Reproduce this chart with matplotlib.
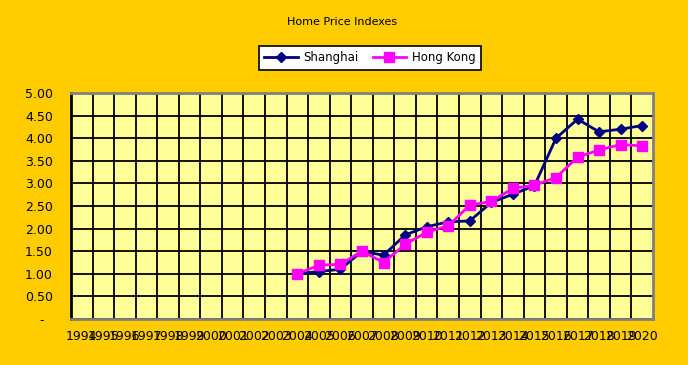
import numpy as np
import matplotlib
matplotlib.use("Agg")
import matplotlib.pyplot as plt

years = [str(y) for y in range(1994, 2021)]
shanghai = [np.nan]*10 + [1.00, 1.05, 1.10, 1.50, 1.41, 1.86, 2.04, 2.15, 2.17, 2.58, 2.76, 2.95, 4.00, 4.42, 4.14, 4.20, 4.28]
hongkong = [np.nan]*10 + [1.00, 1.19, 1.21, 1.50, 1.25, 1.65, 1.92, 2.06, 2.52, 2.60, 2.89, 2.96, 3.13, 3.58, 3.74, 3.86, 3.83]
yticks = [0, 0.5, 1.0, 1.5, 2.0, 2.5, 3.0, 3.5, 4.0, 4.5, 5.0]
ylabels = ["-  "] + [f"{v:.2f}" for v in yticks[1:]]

plt.rcParams['font.family'] = ['DejaVu Sans']
fig = plt.figure(figsize=(6.88, 3.65), dpi=100)
fig.patch.set_facecolor('#FFCC00')
ax = fig.add_axes([71/688, 1-319/365, (653-71)/688, (319-93)/365])
ax.set_facecolor('#FFFF99')

x = np.arange(len(years))
ax.plot(x, shanghai, color='#000080', lw=2.0, marker='D', markersize=5, label='Shanghai', zorder=3)
ax.plot(x, hongkong, color='#FF00FF', lw=2.0, marker='s', markersize=7.5, label='Hong Kong', zorder=4)

ax.set_xlim(-0.5, len(years)-0.5)
ax.set_ylim(0, 5)
ax.set_yticks(yticks)
ax.set_yticklabels(ylabels, fontsize=9)
ax.set_xticks(x)
ax.set_xticklabels(years, fontsize=9)
ax.set_xticks(np.arange(0.5, len(years)-1, 1), minor=True)
ax.tick_params(axis='both', which='both', length=0)
ax.tick_params(axis='y', pad=13)
ax.tick_params(axis='x', pad=8)
ax.grid(axis='y', which='major', color='black', lw=1.3, zorder=1)
ax.grid(axis='x', which='minor', color='black', lw=1.3, zorder=1)
ax.set_axisbelow(True)
for s in ['top', 'right', 'bottom']:
    ax.spines[s].set_color('#808080')
    ax.spines[s].set_linewidth(2)
ax.spines['left'].set_color('black')
ax.spines['left'].set_linewidth(2)

fig.text(342/688, 1-22/365, 'Home Price Indexes', ha='center', va='center', fontsize=8)
leg = fig.legend(loc='center', bbox_to_anchor=(370/688, 1-58/365), ncol=2, fontsize=8.5,
                 frameon=True, fancybox=False, edgecolor='black', facecolor='white',
                 framealpha=1, handlelength=2.8, handletextpad=0.5, columnspacing=1.2,
                 borderpad=0.5)
leg.get_frame().set_linewidth(1.2)

fig.savefig('out.png', dpi=100, facecolor=fig.get_facecolor())
